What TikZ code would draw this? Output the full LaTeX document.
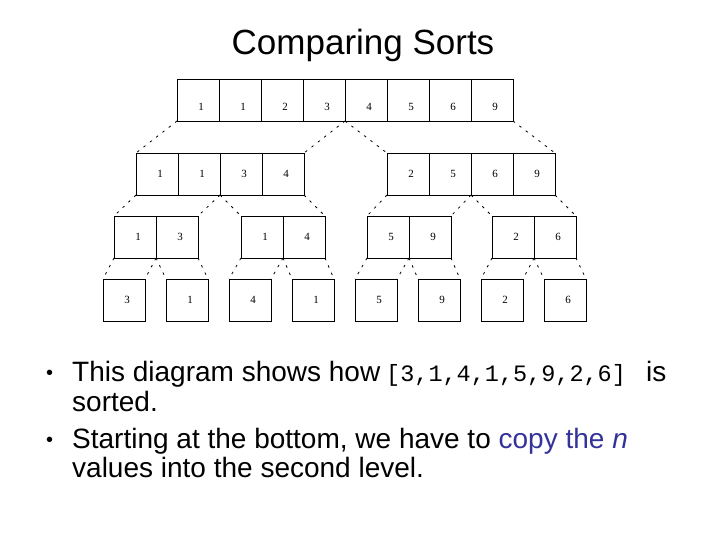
\documentclass[tikz,border=0pt]{standalone}
\usepackage{fontspec}
\setmainfont{Liberation Sans}
\newfontfamily\numfont{Liberation Serif}
\newfontfamily\codefont{Liberation Mono}
\definecolor{copyblue}{RGB}{51,51,153}
\begin{document}
\begin{tikzpicture}[x=1pt,y=-1pt,
  cell/.style={draw=black,line width=0.8pt,minimum width=42pt,minimum height=42pt,inner sep=0pt,outer sep=0pt},
  num/.style={font=\numfont\fontsize{11}{11}\selectfont,xshift=3pt,inner sep=0pt},
  low/.style={num,yshift=-7pt},
  conn/.style={black,line width=0.8pt,dash pattern=on 2.5pt off 5.5pt},
  body/.style={anchor=base west,inner sep=0pt,font=\fontsize{28}{28}\selectfont},
  bul/.style={anchor=base west,inner sep=0pt,font=\fontsize{20}{20}\selectfont}]
\useasboundingbox (0,0) rectangle (720,540);
\fill[white] (0,0) rectangle (720,540);
% title
\node[anchor=base,inner sep=0pt,font=\fontsize{35}{35}\selectfont] (title) at (363,55) {Comparing Sorts};
% top row
\foreach \v [count=\i] in {1,1,2,3,4,5,6,9}{
  \node[cell,label={[low]center:\v}] (t\i) at ({177+21+42*(\i-1)},100) {};
}
% second row
\foreach \v [count=\i] in {1,1,3,4}{
  \node[cell,label={[num]center:\v}] (a\i) at ({136+21+42*(\i-1)},174) {};
}
\foreach \v [count=\i] in {2,5,6,9}{
  \node[cell,label={[num]center:\v}] (b\i) at ({387+21+42*(\i-1)},174) {};
}
% third row
\node[cell,label={[num]center:1}] (c1) at (135,237) {};
\node[cell,label={[num]center:3}] (c2) at (177,237) {};
\node[cell,label={[num]center:1}] (d1) at (262,237) {};
\node[cell,label={[num]center:4}] (d2) at (304,237) {};
\node[cell,label={[num]center:5}] (e1) at (388,237) {};
\node[cell,label={[num]center:9}] (e2) at (430,237) {};
\node[cell,label={[num]center:2}] (f1) at (513,237) {};
\node[cell,label={[num]center:6}] (f2) at (555,237) {};
% fourth row
\foreach \v/\xl [count=\i] in {3/103,1/166,4/229,1/292,5/355,9/418,2/481,6/544}{
  \node[cell,label={[num]center:\v}] (l\i) at ({\xl+21},300) {};
}
% connectors top -> second
\draw[conn] (t1.south west) -- (a1.north west);
\draw[conn] (t4.south east) -- (a4.north east);
\draw[conn] (t5.south west) -- (b1.north west);
\draw[conn] (t8.south east) -- (b4.north east);
% second -> third
\draw[conn] (a1.south west) -- (c1.north west);
\draw[conn] (a2.south east) -- (c2.north east);
\draw[conn] (a3.south west) -- (d1.north west);
\draw[conn] (a4.south east) -- (d2.north east);
\draw[conn] (b1.south west) -- (e1.north west);
\draw[conn] (b2.south east) -- (e2.north east);
\draw[conn] (b3.south west) -- (f1.north west);
\draw[conn] (b4.south east) -- (f2.north east);
% third -> fourth
\draw[conn] (c1.south west) -- (l1.north west);
\draw[conn] (c1.south east) -- (l1.north east);
\draw[conn] (c2.south west) -- (l2.north west);
\draw[conn] (c2.south east) -- (l2.north east);
\draw[conn] (d1.south west) -- (l3.north west);
\draw[conn] (d1.south east) -- (l3.north east);
\draw[conn] (d2.south west) -- (l4.north west);
\draw[conn] (d2.south east) -- (l4.north east);
\draw[conn] (e1.south west) -- (l5.north west);
\draw[conn] (e1.south east) -- (l5.north east);
\draw[conn] (e2.south west) -- (l6.north west);
\draw[conn] (e2.south east) -- (l6.north east);
\draw[conn] (f1.south west) -- (l7.north west);
\draw[conn] (f1.south east) -- (l7.north east);
\draw[conn] (f2.south west) -- (l8.north west);
\draw[conn] (f2.south east) -- (l8.north east);
% bullets and text
\node[bul] (b1a) at (46,379) {•};
\node[body] (line1) at (72,381) {This diagram shows how};
\node[anchor=base west,inner sep=0pt,font=\codefont\fontsize{23.5}{23.5}\selectfont] (code) at (386,381) {[3,1,4,1,5,9,2,6]};
\node[body] (is) at (646,381) {is};
\node[body] (line2) at (72,411) {sorted.};
\node[bul] (b2a) at (46,446) {•};
\node[body] (line3) at (72,448) {Starting at the bottom, we have to \textcolor{copyblue}{copy the \textit{n}}};
\node[body] (line4) at (72,477) {values into the second level.};
\end{tikzpicture}
\end{document}
